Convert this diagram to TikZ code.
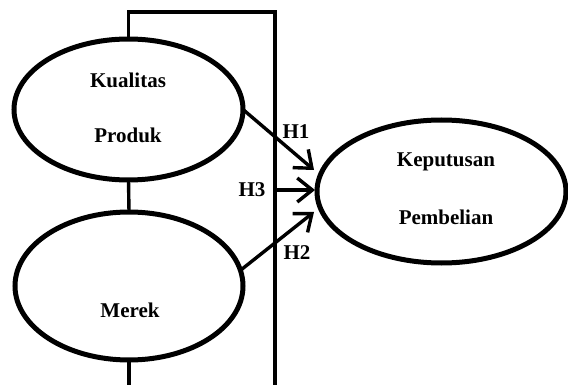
\documentclass[tikz,border=0pt]{standalone}
\usepackage{fontspec}
\setmainfont{Liberation Serif}
\usetikzlibrary{arrows.meta,shapes.geometric}
\begin{document}
\begin{tikzpicture}[x=1pt,y=-1pt,
  var/.style={ellipse,draw,line width=5pt,inner sep=0pt,outer sep=0pt},
  lbl/.style={font=\fontsize{21}{24}\selectfont\bfseries,inner sep=0pt},
  conn/.style={line width=3.4pt},
  hyp/.style={line width=3.4pt,-{Straight Barb[length=15pt,width=24pt,line width=3.4pt]}}]
\useasboundingbox (0,0) rectangle (568,385);
% latent variables
\node[var,minimum width=229pt,minimum height=141pt] (kp) at (128.5,109.5) {};
\node[var,minimum width=228pt,minimum height=148pt] (mr) at (129,286) {};
\node[var,minimum width=249pt,minimum height=143pt] (kb) at (441.5,191.5) {};
% texts
\node[lbl] (t1) at (128,80) {Kualitas};
\node[lbl] (t2) at (128,135) {Produk};
\node[lbl] (t3) at (130,310) {Merek};
\node[lbl] (t4) at (446,162) {Keputusan};
\node[lbl] (t5) at (446,217) {Pembelian};
% frame coordinates
\coordinate (c1) at (kp.north |- 0,12);
\coordinate (c2) at (275,12);
\coordinate (c3) at (275,390);
\coordinate (c4) at (mr.south |- 0,390);
\coordinate (h3s) at (275,190);
\coordinate (h1e) at (314,170);
\coordinate (h3e) at (315,190);
\coordinate (h2e) at (314,212);
% connectors
\draw[conn,line join=miter] (kp.north) -- (c1) -- (c2) -- (c3);
\draw[conn] (kp.south) -- (mr.north);
\draw[conn] (mr.south) -- (c4);
\draw[hyp] (kp.east) -- (h1e);
\draw[hyp] (h3s) -- (h3e);
\draw[hyp] (mr.8) -- (h2e);
% hypothesis labels
\node[lbl] (h1) at (296,132) {H1};
\node[lbl] (h3) at (252,190) {H3};
\node[lbl] (h2) at (297,253) {H2};
\end{tikzpicture}
\end{document}
